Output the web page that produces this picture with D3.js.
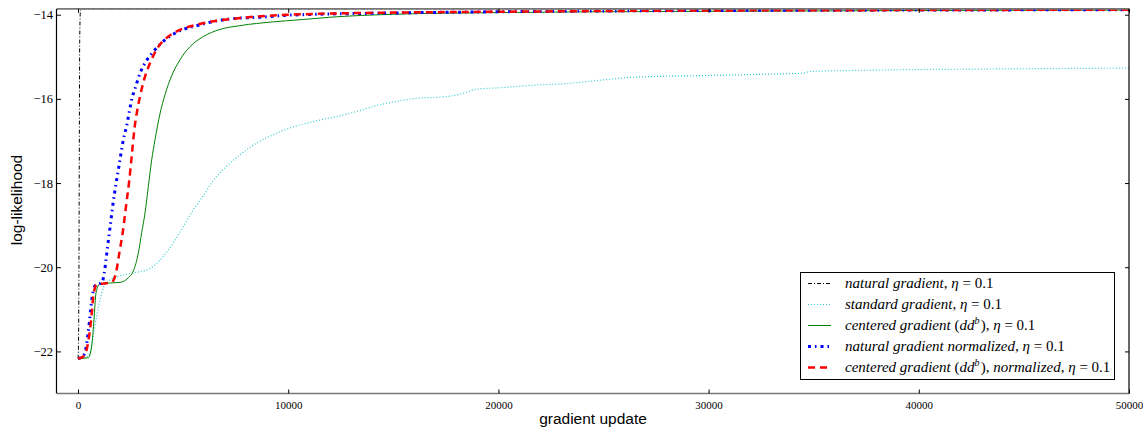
<!DOCTYPE html>
<html>
<head>
<meta charset="utf-8">
<script src="https://cdn.jsdelivr.net/npm/d3@7"></script>
<style>
  html, body { margin: 0; padding: 0; background: #fff; }
  svg { display: block; }
</style>
</head>
<body>
<svg id="chart" width="1143" height="430"></svg>
<script>
// ---------- data ----------
const xTicks = [0, 10000, 20000, 30000, 40000, 50000];
const yTicks = [-22, -20, -18, -16, -14];

const naturalX = [0, 20, 40, 60, 80, 120, 300, 1000, 5000, 20000, 50000];
const naturalY = [-22.17, -21.9, -20.5, -17.5, -14.6, -13.87, -13.86, -13.86, -13.86, -13.86, -13.86];

const standardX = [0, 300, 571, 728, 888, 1047, 1205, 1443, 1998, 2632, 3108, 3584, 4060, 4535, 5011, 5487, 5962, 6438, 7072, 7707, 8500, 9293, 10086, 11195, 12464, 13416, 14050, 15161, 16270, 17222, 18173, 18968, 19920, 21503, 23406, 24990, 26260, 28163, 30543, 32921, 34506, 34823, 37520, 43545, 50000];
const standardY = [-22.17, -22.15, -22.03, -21.64, -21.16, -20.77, -20.49, -20.33, -20.21, -20.13, -20.09, -19.98, -19.74, -19.42, -19.03, -18.63, -18.3, -17.94, -17.6, -17.33, -17.05, -16.85, -16.69, -16.54, -16.4, -16.28, -16.18, -16.06, -15.98, -15.96, -15.89, -15.77, -15.74, -15.68, -15.63, -15.55, -15.49, -15.46, -15.44, -15.41, -15.39, -15.35, -15.32, -15.29, -15.27];

const centeredX = [0, 490, 650, 761, 856, 1047, 1998, 2394, 2632, 2870, 3029, 3188, 3346, 3505, 3663, 3901, 4139, 4456, 4852, 5328, 5962, 6755, 7707, 9293, 10561, 12000, 15000, 20000, 25000, 30000, 40000, 50000];
const centeredY = [-22.17, -22.15, -21.87, -21.24, -20.61, -20.39, -20.36, -20.25, -20.09, -19.66, -19.18, -18.71, -18.08, -17.45, -16.97, -16.35, -15.9, -15.45, -15.07, -14.76, -14.52, -14.35, -14.26, -14.17, -14.12, -14.06, -13.99, -13.95, -13.93, -13.92, -13.9, -13.89];

const naturalNormX = [0, 254, 381, 460, 539, 602, 683, 800, 950, 1126, 1252, 1332, 1411, 1491, 1570, 1649, 1744, 1839, 1950, 2046, 2157, 2315, 2442, 2553, 2743, 2950, 3235, 3631, 4139, 4615, 5804, 7072, 8976, 10086, 15000, 20000, 30000, 40000, 50000];
const naturalNormY = [-22.17, -22.1, -21.91, -21.64, -21.31, -21.0, -20.67, -20.45, -20.4, -20.37, -20.13, -19.82, -19.5, -19.18, -18.87, -18.55, -18.22, -17.92, -17.59, -17.29, -16.97, -16.64, -16.3, -16.02, -15.71, -15.39, -15.11, -14.85, -14.6, -14.44, -14.24, -14.11, -14.05, -14.01, -13.96, -13.93, -13.9, -13.89, -13.88];

const centeredNormX = [0, 250, 414, 571, 650, 728, 888, 1600, 1808, 1966, 2125, 2284, 2442, 2569, 2680, 2823, 2950, 3140, 3425, 3822, 4297, 4852, 5804, 7707, 10086, 15000, 20000, 30000, 40000, 50000];
const centeredNormY = [-22.17, -22.12, -21.95, -21.48, -21.12, -20.69, -20.41, -20.36, -20.13, -19.66, -19.18, -18.55, -17.92, -17.29, -16.73, -16.26, -15.94, -15.55, -15.15, -14.76, -14.52, -14.36, -14.22, -14.08, -14.0, -13.95, -13.93, -13.9, -13.89, -13.88];

const seriesNames = [
  "natural gradient, η = 0.1",
  "standard gradient, η = 0.1",
  "centered gradient (dd^b), η = 0.1",
  "natural gradient normalized, η = 0.1",
  "centered gradient (dd^b), normalized, η = 0.1"
];

// ---------- layout / style ----------
const svg = d3.select("#chart");
const L = 57, R = 1129, T = 8.8, B = 393.5;
const x = d3.scaleLinear().domain([-1000, 50000]).range([L, R]);
const y = d3.scaleLinear().domain([-23, -13.86]).range([B, T]);

const styles = [
  { color: "#000000", width: 1,   dash: "4,2,1,2" },
  { color: "#33cccc", width: 1.2, dash: "1,2" },
  { color: "#008000", width: 1,   dash: null },
  { color: "#0000ff", width: 3,   dash: "3,4,1.5,4" },
  { color: "#ff0000", width: 2.5, dash: "7,5" }
];
const seriesData = [
  [naturalX, naturalY],
  [standardX, standardY],
  [centeredX, centeredY],
  [naturalNormX, naturalNormY],
  [centeredNormX, centeredNormY]
];

const serif = "'Liberation Serif', 'DejaVu Serif', serif";
const sans = "'Liberation Sans', Arial, sans-serif";

// clip
svg.append("defs").append("clipPath").attr("id", "clip")
  .append("rect").attr("x", L).attr("y", T - 1).attr("width", R - L).attr("height", B - T + 1);

const line = d3.line().x(d => x(d[0])).y(d => y(d[1])).curve(d3.curveMonotoneX);
const plot = svg.append("g").attr("clip-path", "url(#clip)");
seriesData.forEach((s, i) => {
  const pts = s[0].map((v, j) => [v, s[1][j]]);
  const st = styles[i];
  plot.append("path").datum(pts)
    .attr("d", line)
    .attr("fill", "none")
    .attr("stroke", st.color)
    .attr("stroke-width", st.width)
    .attr("stroke-dasharray", st.dash)
    .attr("stroke-linejoin", "round");
});

// frame
svg.append("line").attr("x1", L).attr("x2", R).attr("y1", T).attr("y2", T).attr("stroke", "#777").attr("stroke-width", 1.8);
svg.append("line").attr("x1", L).attr("x2", R).attr("y1", B).attr("y2", B).attr("stroke", "#777").attr("stroke-width", 1.6);
svg.append("line").attr("x1", L - 0.5).attr("x2", L - 0.5).attr("y1", T).attr("y2", B).attr("stroke", "#000").attr("stroke-width", 1.2);
svg.append("line").attr("x1", R).attr("x2", R).attr("y1", T).attr("y2", B).attr("stroke", "#000").attr("stroke-width", 1.2);

// axes (ticks inward)
const axB = svg.append("g").attr("transform", `translate(0,${B})`)
  .call(d3.axisBottom(x).tickValues(xTicks).tickSize(-4).tickPadding(8).tickFormat(d3.format("d")));
const axT = svg.append("g").attr("transform", `translate(0,${T})`)
  .call(d3.axisTop(x).tickValues(xTicks).tickSize(-4).tickFormat(""));
const axL = svg.append("g").attr("transform", `translate(${L},0)`)
  .call(d3.axisLeft(y).tickValues(yTicks).tickSize(-4).tickPadding(4).tickFormat(d3.format("d")));
const axR = svg.append("g").attr("transform", `translate(${R},0)`)
  .call(d3.axisRight(y).tickValues(yTicks).tickSize(-4).tickFormat(""));
[axB, axT, axL, axR].forEach(a => {
  a.select(".domain").remove();
  a.selectAll(".tick line").attr("stroke", "#000").attr("stroke-width", 1);
});
axB.selectAll("text").attr("font-family", serif).attr("font-size", 11).attr("fill", "#000");
axL.selectAll("text").attr("font-family", serif).attr("font-size", 12.5).attr("fill", "#000");

// axis labels
svg.append("text").attr("x", 593).attr("y", 424).attr("text-anchor", "middle")
  .attr("font-family", sans).attr("font-size", 15.5).text("gradient update");
svg.append("text").attr("transform", "translate(22,200) rotate(-90)").attr("text-anchor", "middle")
  .attr("font-family", sans).attr("font-size", 15.5).text("log-likelihood");

// legend
const lg = svg.append("g");
lg.append("rect").attr("x", 800.5).attr("y", 272.5).attr("width", 314).attr("height", 107)
  .attr("fill", "#fff").attr("stroke", "#000").attr("stroke-width", 1);
const rowY = [283.5, 304.5, 325.5, 346.5, 367.5];
seriesNames.forEach((name, i) => {
  const st = styles[i];
  lg.append("line").attr("x1", 808).attr("x2", 831).attr("y1", rowY[i]).attr("y2", rowY[i])
    .attr("stroke", st.color).attr("stroke-width", st.width).attr("stroke-dasharray", st.dash);
  const t = lg.append("text").attr("x", 845).attr("y", rowY[i] + 4.5)
    .attr("font-family", serif).attr("font-size", 15);
  // simple math-like markup: letters italic, others upright, ^x superscript
  const re = /(\^[a-z])|([A-Za-zη]+)|([^A-Za-zη^]+)/g;
  let m;
  while ((m = re.exec(name)) !== null) {
    if (m[1]) {
      t.append("tspan").attr("font-style", "italic").attr("font-size", 10).attr("dy", -6).text(m[1].slice(1));
      t.append("tspan").attr("dy", 6).text("\u200A");
    } else if (m[2]) {
      t.append("tspan").attr("font-style", "italic").text(m[2]);
    } else {
      t.append("tspan").attr("font-style", "normal").text(m[3]);
    }
  }
});
</script>
</body>
</html>
